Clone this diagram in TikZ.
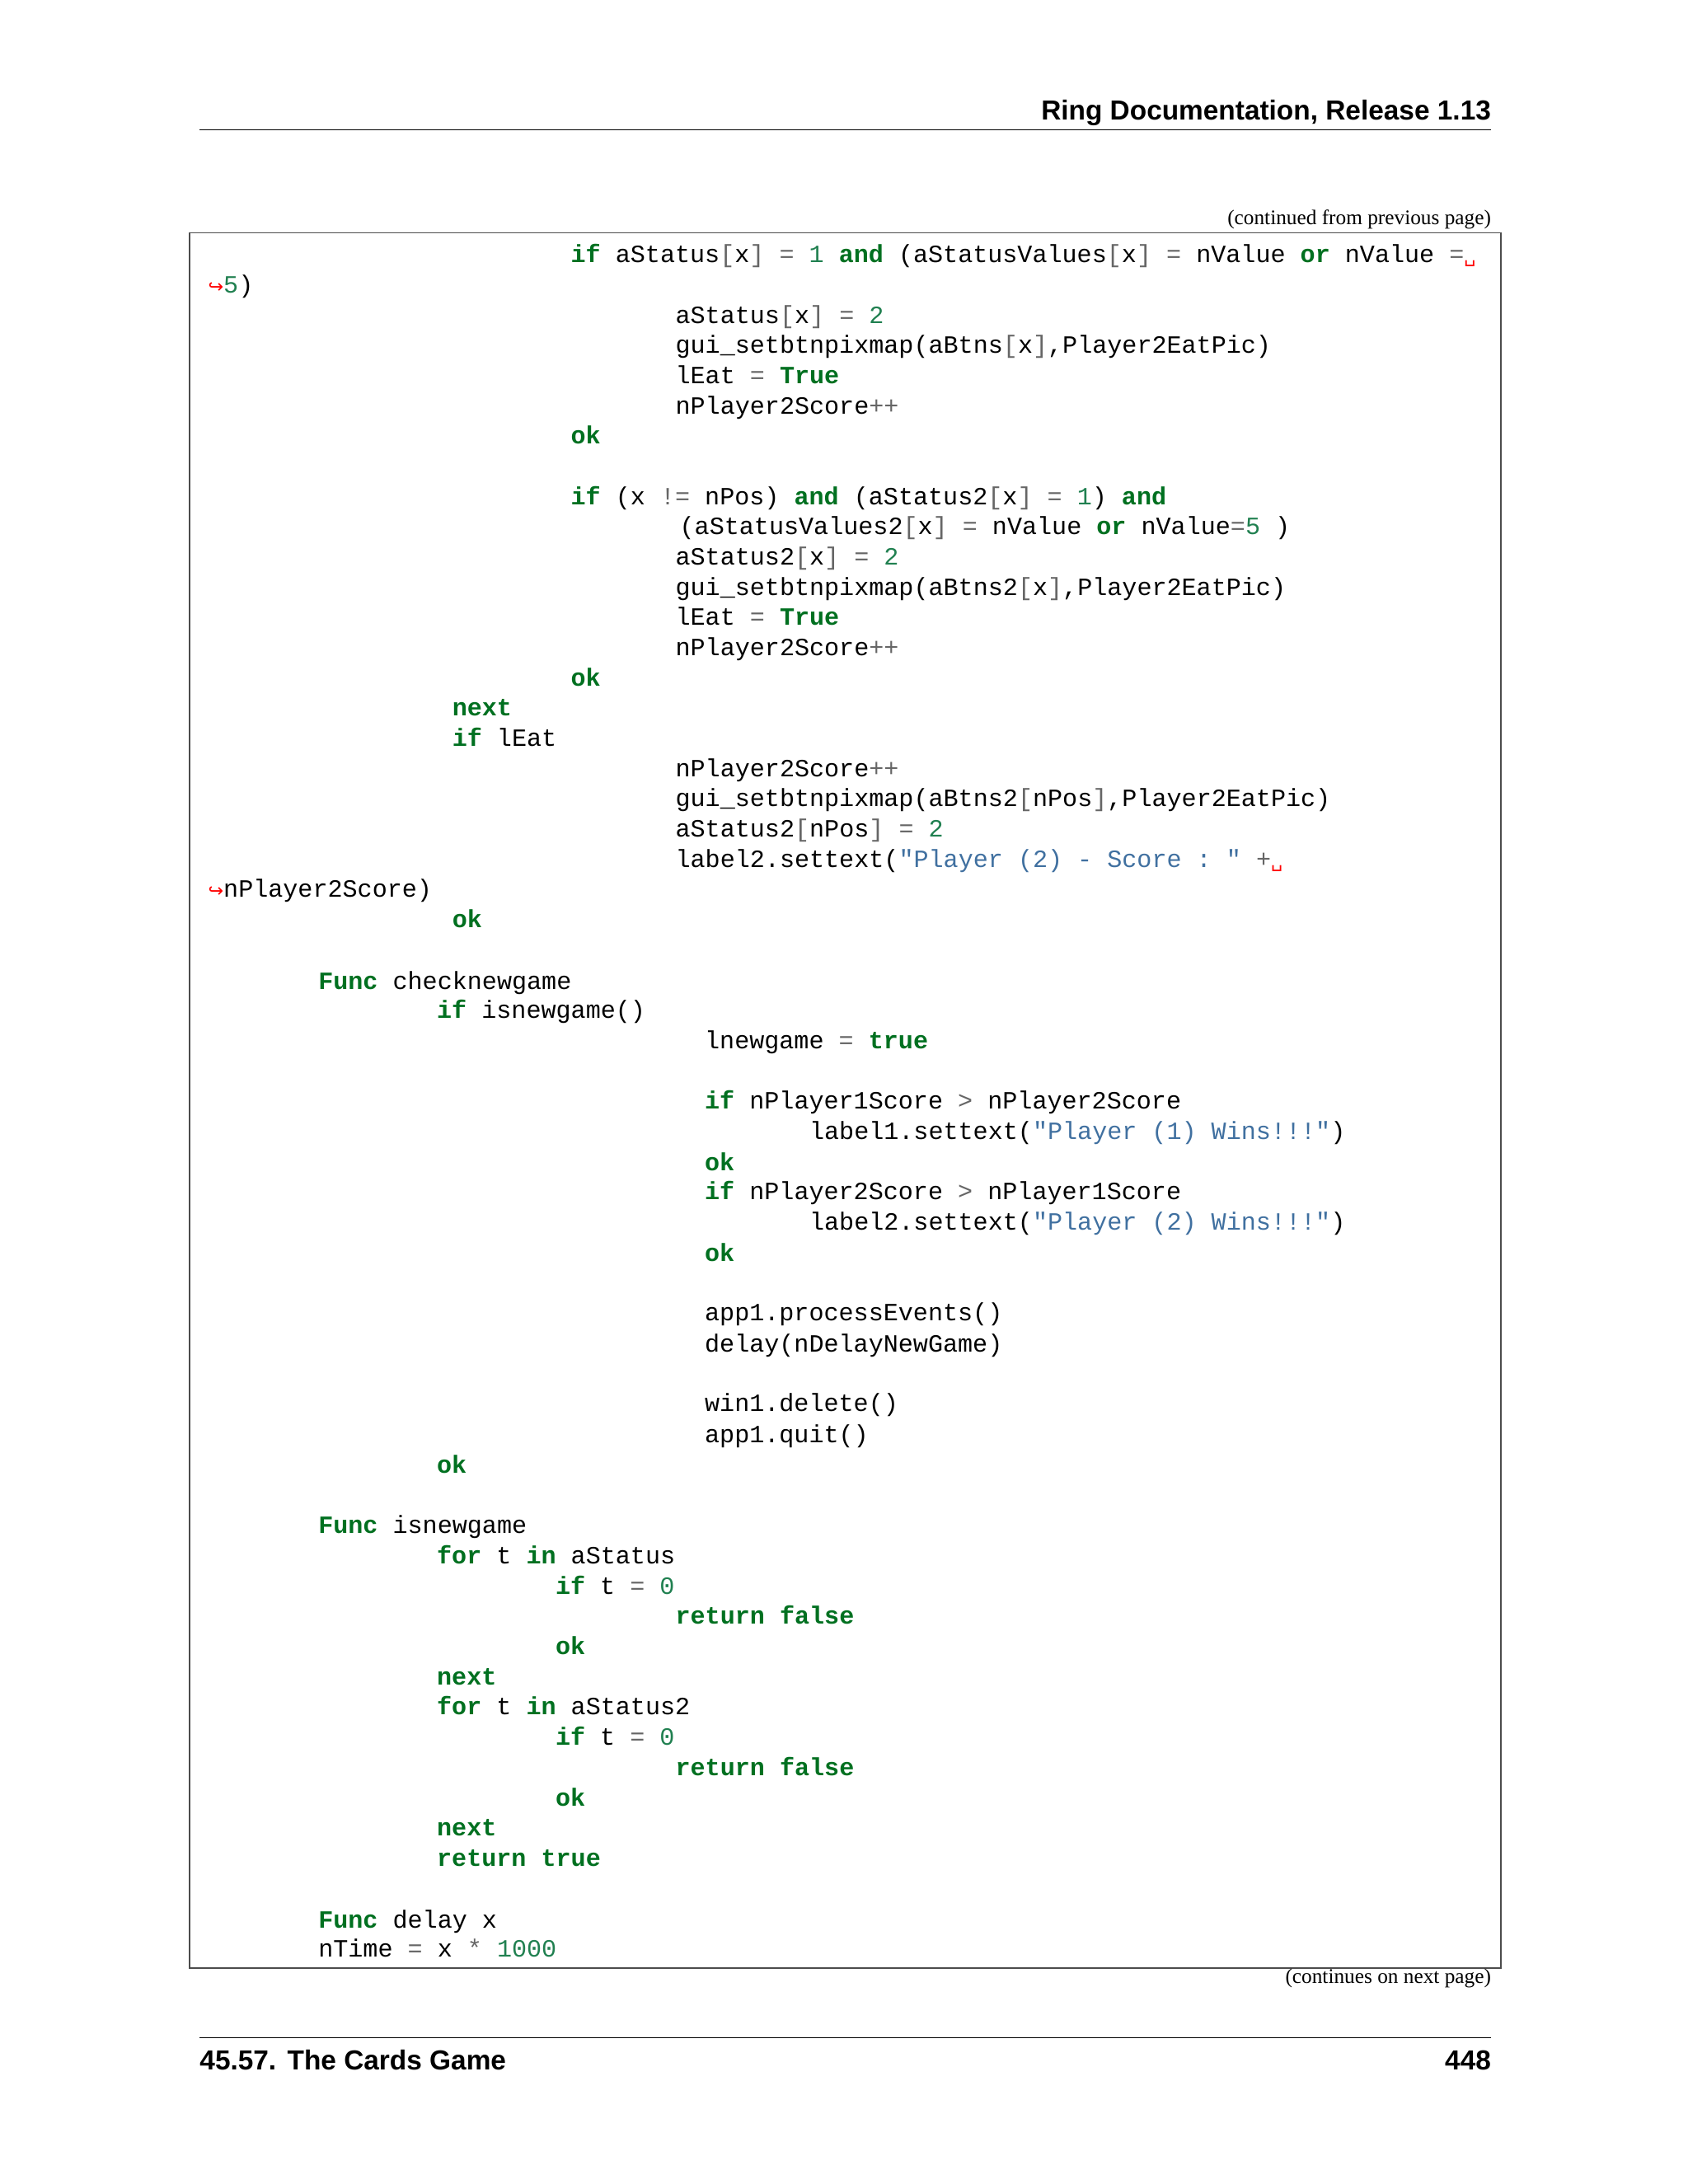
\documentclass[tikz,border=0pt]{standalone}
\usepackage{fontspec}
\setmainfont{Liberation Serif}
\setsansfont{Liberation Sans}
\setmonofont{Liberation Mono}
\newfontfamily\symf{DejaVu Sans}
\definecolor{kwc}{HTML}{007020}
\definecolor{nmc}{HTML}{208050}
\definecolor{opc}{HTML}{666666}
\definecolor{stc}{HTML}{4070A0}
\newcommand\kw[1]{\textcolor{kwc}{\bfseries #1}}
\newcommand\nm[1]{\textcolor{nmc}{#1}}
\newcommand\op[1]{\textcolor{opc}{#1}}
\newcommand\st[1]{\textcolor{stc}{#1}}
\newcommand\hk{\textcolor{red}{\symf\fontsize{11.1}{11}\selectfont ↪}}
\newcommand\spc{\textcolor{red}{\symf\fontsize{11.1}{11}\selectfont ␣}}
\begin{document}
\begin{tikzpicture}[x=0.8463pt,y=-0.8463pt,
  code/.style={anchor=base west,inner sep=0pt,font=\ttfamily\fontsize{15.05}{15}\selectfont},
  hdr/.style={inner sep=0pt,font=\sffamily\bfseries\fontsize{16.7}{17}\selectfont},
  note/.style={inner sep=0pt,anchor=base east,font=\fontsize{12.65}{13}\selectfont}]
\useasboundingbox[fill=white] (0,0) rectangle (1210,1565.7);
\node[hdr,anchor=base east] (h1) at (1069,86) {Ring Documentation, Release 1.13};
\draw[line width=0.6pt] (143,93) coordinate (a1) -- (1069,93) coordinate (a2);
\node[note] (c1) at (1069,161) {(continued from previous page)};
\draw[line width=0.8pt,draw=black!70] (136,167) rectangle (1076,1411);
\node[note] (c2) at (1069,1422) {(continues on next page)};
\draw[line width=0.6pt] (143,1461) coordinate (b1) -- (1069,1461) coordinate (b2);
\node[hdr,anchor=base west] (f1) at (143,1484) {45.57.\hspace{0.4em}The Cards Game};
\node[hdr,anchor=base east] (f2) at (1069,1484) {448};
\def\L#1#2#3#4{\node[code] (#1) at (#2,#3+5) {#4};}
\L{l1}{409}{183}{\kw{if} aStatus\op{[}x\op{]} \op{=} \nm{1} \kw{and} (aStatusValues\op{[}x\op{]} \op{=} nValue \kw{or} nValue \op{=}\spc}
\L{l2}{149}{205}{\hk\nm{5})}
\L{l3}{484}{227}{aStatus\op{[}x\op{]} \op{=} \nm{2}}
\L{l4}{484}{248}{gui\_setbtnpixmap(aBtns\op{[}x\op{]},Player2EatPic)}
\L{l5}{484}{270}{lEat \op{=} \kw{True}}
\L{l6}{484}{292}{nPlayer2Score\op{++}}
\L{l7}{409}{313}{\kw{ok}}
\L{l8}{409}{357}{\kw{if} (x \op{!=} nPos) \kw{and} (aStatus2\op{[}x\op{]} \op{=} \nm{1}) \kw{and}}
\L{l9}{487}{378}{(aStatusValues2\op{[}x\op{]} \op{=} nValue \kw{or} nValue\op{=}\nm{5} )}
\L{l10}{484}{400}{aStatus2\op{[}x\op{]} \op{=} \nm{2}}
\L{l11}{484}{422}{gui\_setbtnpixmap(aBtns2\op{[}x\op{]},Player2EatPic)}
\L{l12}{484}{443}{lEat \op{=} \kw{True}}
\L{l13}{484}{465}{nPlayer2Score\op{++}}
\L{l14}{409}{487}{\kw{ok}}
\L{l15}{324}{508}{\kw{next}}
\L{l16}{324}{530}{\kw{if} lEat}
\L{l17}{484}{552}{nPlayer2Score\op{++}}
\L{l18}{484}{573}{gui\_setbtnpixmap(aBtns2\op{[}nPos\op{]},Player2EatPic)}
\L{l19}{484}{595}{aStatus2\op{[}nPos\op{]} \op{=} \nm{2}}
\L{l20}{484}{617}{label2.settext(\st{"Player (2) - Score : "} \op{+}\spc}
\L{l21}{149}{638}{\hk nPlayer2Score)}
\L{l22}{324}{660}{\kw{ok}}
\L{l23}{228}{704}{\kw{Func} checknewgame}
\L{l24}{313}{725}{\kw{if} isnewgame()}
\L{l25}{505}{747}{lnewgame \op{=} \kw{true}}
\L{l26}{505}{790}{\kw{if} nPlayer1Score \op{>} nPlayer2Score}
\L{l27}{580}{812}{label1.settext(\st{"Player (1) Wins!!!"})}
\L{l28}{505}{834}{\kw{ok}}
\L{l29}{505}{855}{\kw{if} nPlayer2Score \op{>} nPlayer1Score}
\L{l30}{580}{877}{label2.settext(\st{"Player (2) Wins!!!"})}
\L{l31}{505}{899}{\kw{ok}}
\L{l32}{505}{942}{app1.processEvents()}
\L{l33}{505}{964}{delay(nDelayNewGame)}
\L{l34}{505}{1007}{win1.delete()}
\L{l35}{505}{1029}{app1.quit()}
\L{l36}{313}{1051}{\kw{ok}}
\L{l37}{228}{1094}{\kw{Func} isnewgame}
\L{l38}{313}{1116}{\kw{for} t \kw{in} aStatus}
\L{l39}{398}{1138}{\kw{if} t \op{=} \nm{0}}
\L{l40}{484}{1159}{\kw{return} \kw{false}}
\L{l41}{398}{1181}{\kw{ok}}
\L{l42}{313}{1203}{\kw{next}}
\L{l43}{313}{1224}{\kw{for} t \kw{in} aStatus2}
\L{l44}{398}{1246}{\kw{if} t \op{=} \nm{0}}
\L{l45}{484}{1268}{\kw{return} \kw{false}}
\L{l46}{398}{1290}{\kw{ok}}
\L{l47}{313}{1311}{\kw{next}}
\L{l48}{313}{1333}{\kw{return} \kw{true}}
\L{l49}{228}{1377}{\kw{Func} delay x}
\L{l50}{228}{1398}{nTime \op{=} x \op{*} \nm{1000}}
\end{tikzpicture}
\end{document}
